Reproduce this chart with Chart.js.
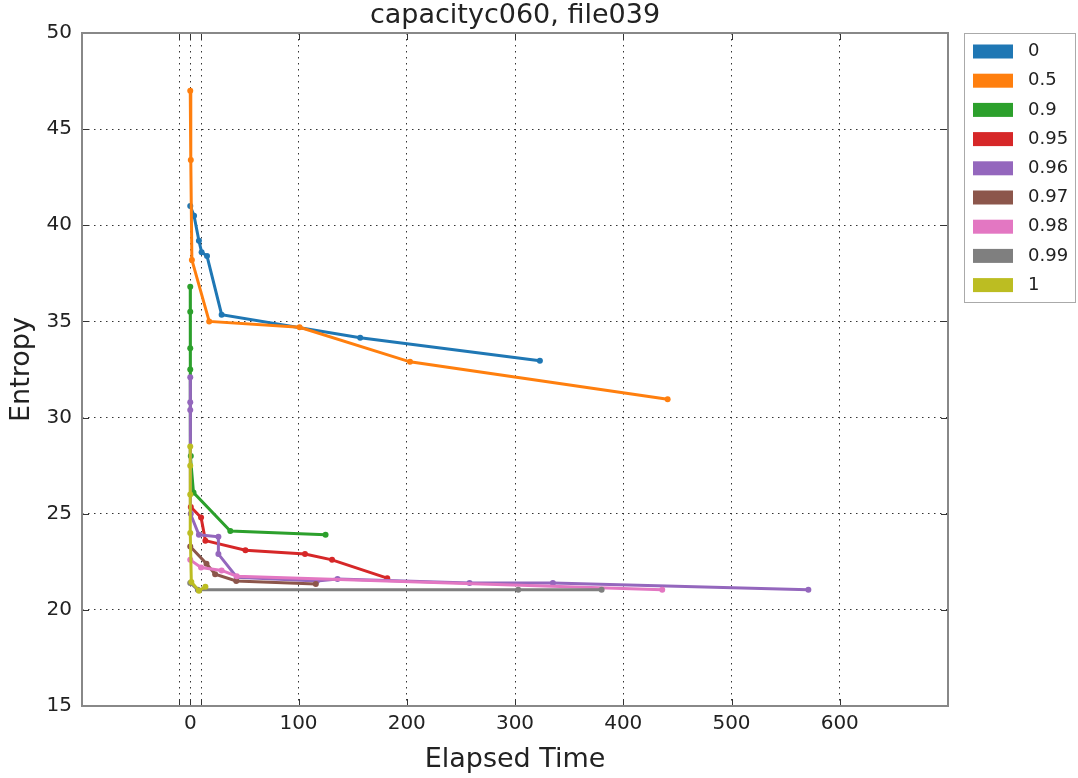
<!DOCTYPE html>
<html>
<head>
<meta charset="utf-8">
<script src="https://cdn.jsdelivr.net/npm/chart.js@4.4.1/dist/chart.umd.min.js"></script>
<style>
  body { margin: 0; background: #fff; }
  #wrap { width: 1078px; height: 778px; }
</style>
</head>
<body>
<div id="wrap"><canvas id="chart" width="1078" height="778"></canvas></div>
<script>
// series (elapsed time, entropy)
const seriesNames = ['0', '0.5', '0.9', '0.95', '0.96', '0.97', '0.98', '0.99', '1'];
const seriesColors = ['#1f77b4', '#ff7f0e', '#2ca02c', '#d62728', '#9467bd', '#8c564b', '#e377c2', '#7f7f7f', '#bcbd22'];

const time_0 = [0, 3.5, 8, 10.5, 15.5, 29, 157, 323];
const entropy_0 = [41.0, 40.5, 39.2, 38.6, 38.4, 35.35, 34.15, 32.95];

const time_05 = [0, 0.5, 1.5, 17.5, 101, 203, 441];
const entropy_05 = [47.0, 43.4, 38.2, 35.0, 34.7, 32.9, 30.95];

const time_09 = [0, 0, 0, 0, 0.5, 3, 37, 125];
const entropy_09 = [36.8, 35.5, 33.6, 32.5, 28.0, 26.1, 24.1, 23.9];

const time_095 = [0.5, 10, 14, 51, 106, 131, 182];
const entropy_095 = [25.35, 24.8, 23.6, 23.1, 22.9, 22.6, 21.65];

const time_096 = [0, 0, 0, 0.5, 8, 26, 26, 43, 117, 136, 258, 335, 571];
const entropy_096 = [32.1, 30.8, 30.4, 25.0, 23.9, 23.8, 22.9, 21.7, 21.5, 21.6, 21.4, 21.4, 21.05];

const time_097 = [0, 15, 23, 42.5, 116];
const entropy_097 = [23.3, 22.4, 21.85, 21.5, 21.35];

const time_098 = [0, 10, 29, 43, 436];
const entropy_098 = [22.6, 22.2, 22.05, 21.75, 21.05];

const time_099 = [0, 7, 303, 380];
const entropy_099 = [21.4, 21.05, 21.05, 21.05];

const time_1 = [0, 0, 0, 0, 1, 8, 14];
const entropy_1 = [28.5, 27.5, 26.0, 24.0, 21.45, 21.0, 21.2];

const xTicks = [-100, -10, 0, 10, 100, 200, 300, 400, 500, 600, 700];
const yTicks = [15, 20, 25, 30, 35, 40, 45, 50];

const allTimes = [time_0, time_05, time_09, time_095, time_096, time_097, time_098, time_099, time_1];
const allEntropy = [entropy_0, entropy_05, entropy_09, entropy_095, entropy_096, entropy_097, entropy_098, entropy_099, entropy_1];

const datasets = seriesNames.map((name, i) => ({
  label: name,
  data: allTimes[i].map((t, j) => ({ x: t, y: allEntropy[i][j] })),
  borderColor: seriesColors[i],
  backgroundColor: seriesColors[i],
  borderWidth: 3,
  pointRadius: 3,
  pointBorderWidth: 0,
  tension: 0,
  order: seriesNames.length - i   // later series drawn on top, like matplotlib
}));

// frame, inward tick marks and the legend box on the right
const framePlugin = {
  id: 'frame',
  afterDraw(chart) {
    const { ctx, chartArea: a, scales } = chart;
    ctx.save();
    ctx.strokeStyle = '#333';
    ctx.lineWidth = 1;
    const len = 7;
    scales.x.ticks.forEach(t => {
      const px = Math.round(scales.x.getPixelForValue(t.value)) + 0.5;
      ctx.beginPath();
      ctx.moveTo(px, a.bottom); ctx.lineTo(px, a.bottom - len);
      ctx.moveTo(px, a.top); ctx.lineTo(px, a.top + len);
      ctx.stroke();
    });
    scales.y.ticks.forEach(t => {
      const py = Math.round(scales.y.getPixelForValue(t.value)) + 0.5;
      ctx.beginPath();
      ctx.moveTo(a.left, py); ctx.lineTo(a.left + len, py);
      ctx.moveTo(a.right, py); ctx.lineTo(a.right - len, py);
      ctx.stroke();
    });
    ctx.strokeStyle = '#888';
    ctx.lineWidth = 2;
    ctx.strokeRect(a.left, a.top, a.right - a.left, a.bottom - a.top);

    // legend
    const lx = 964, ly = 33, rowH = 29.2;
    ctx.strokeStyle = '#aaa';
    ctx.lineWidth = 1;
    ctx.strokeRect(lx + 0.5, ly + 0.5, 111, 269);
    ctx.font = '18px "DejaVu Sans"';
    ctx.textBaseline = 'middle';
    chart.data.datasets.forEach((ds, i) => {
      const cy = ly + 18.5 + i * rowH;
      ctx.fillStyle = ds.borderColor;
      ctx.fillRect(lx + 9, cy - 7, 40, 14);
      ctx.fillStyle = '#222';
      ctx.fillText(ds.label, lx + 64, cy);
    });
    ctx.restore();
  }
};

new Chart(document.getElementById('chart'), {
  type: 'line',
  data: { datasets },
  options: {
    responsive: false,
    animation: false,
    layout: { padding: { right: 130 } },
    plugins: {
      legend: { display: false },
      tooltip: { enabled: false },
      title: {
        display: true,
        text: 'capacityc060, file039',
        fullSize: false,
        color: '#222',
        font: { family: 'DejaVu Sans', size: 27, weight: 'normal', lineHeight: 1.2 },
        padding: { top: 0, bottom: 0.6 }
      }
    },
    scales: {
      x: {
        type: 'linear',
        min: -100,
        max: 700,
        afterBuildTicks: s => { s.ticks = xTicks.map(v => ({ value: v })); },
        afterFit: s => { s.height = 72; },
        ticks: {
          autoSkip: false,
          maxRotation: 0,
          padding: 6,
          color: '#222',
          font: { family: 'DejaVu Sans', size: 20 },
          callback: v => (v >= 0 && v <= 600 && v !== 10) ? String(v) : ''
        },
        grid: { color: '#333', lineWidth: 1, drawTicks: false },
        border: { display: false, dash: [1.5, 4.5] },
        title: {
          display: true,
          text: 'Elapsed Time',
          color: '#222',
          font: { family: 'DejaVu Sans', size: 27, lineHeight: 1.2 },
          padding: { top: 0, bottom: 2 }
        }
      },
      y: {
        min: 15,
        max: 50,
        afterBuildTicks: s => { s.ticks = yTicks.map(v => ({ value: v })); },
        afterFit: s => { s.width = 82; },
        ticks: {
          padding: 10,
          color: '#222',
          font: { family: 'DejaVu Sans', size: 20 }
        },
        grid: { color: '#333', lineWidth: 1, drawTicks: false },
        border: { display: false, dash: [1.5, 4.5] },
        title: {
          display: true,
          text: 'Entropy',
          color: '#222',
          font: { family: 'DejaVu Sans', size: 27, lineHeight: 1.2 },
          padding: { top: 6, bottom: 0 }
        }
      }
    }
  },
  plugins: [framePlugin]
});
</script>
</body>
</html>
